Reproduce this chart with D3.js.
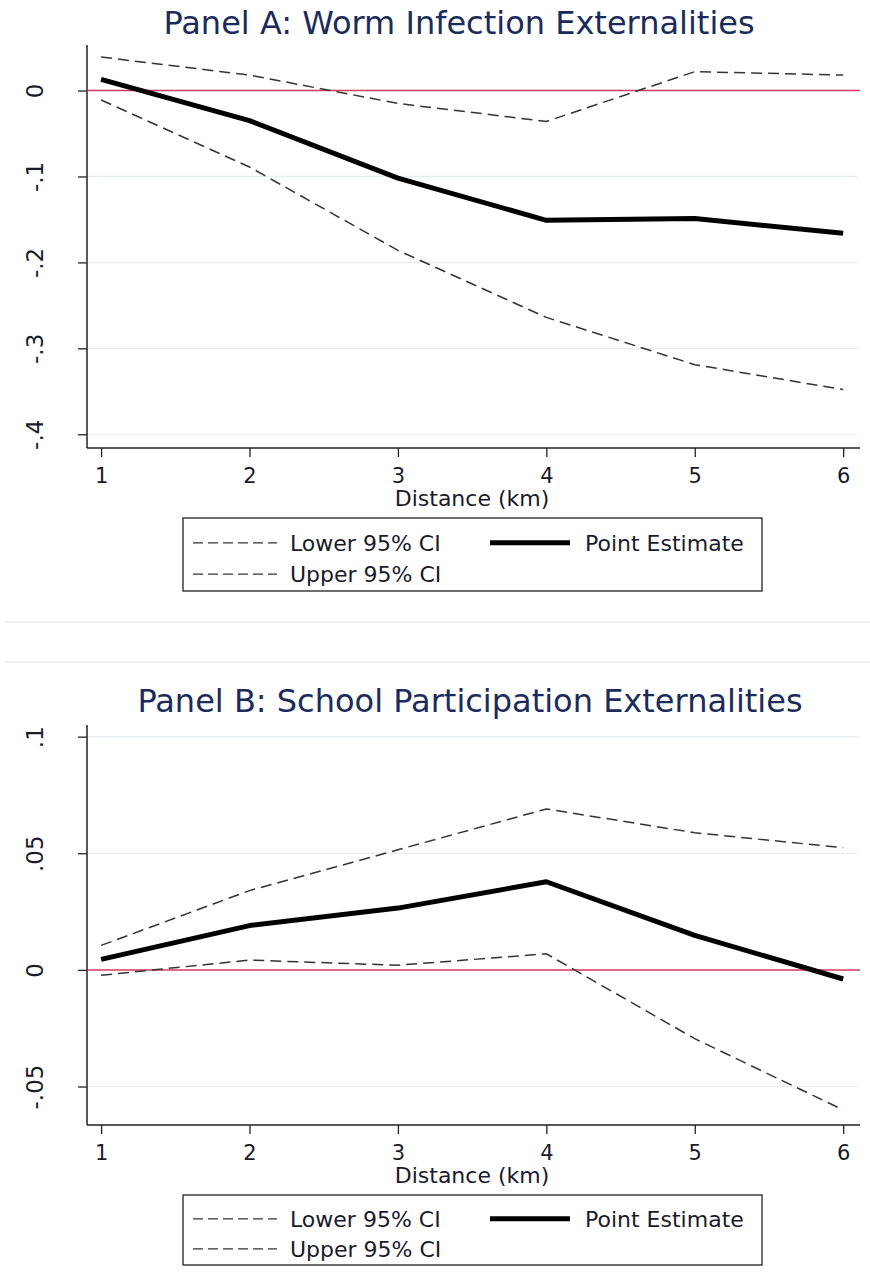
<!DOCTYPE html>
<html>
<head>
<meta charset="utf-8">
<script src="https://cdn.jsdelivr.net/npm/d3@7/dist/d3.min.js"></script>
<style>
  html, body { margin: 0; padding: 0; background: #fff; }
  svg { display: block; }
  text { font-family: "DejaVu Sans", Verdana, sans-serif; }
</style>
</head>
<body>
<svg id="chart" width="870" height="1272"></svg>
<script>
// Distance bands (km)
const distances = [1, 2, 3, 4, 5, 6];

// Panel A: worm infection externalities
const wormPoint = [0.013, -0.035, -0.102, -0.151, -0.149, -0.166];
const wormUpper = [0.039, 0.018, -0.015, -0.036, 0.022, 0.018];
const wormLower = [-0.011, -0.089, -0.186, -0.264, -0.319, -0.348];
const wormTicks = [0, -0.1, -0.2, -0.3, -0.4];
const wormTickLabels = ["0", "-.1", "-.2", "-.3", "-.4"];

// Panel B: school participation externalities
const schoolPoint = [0.0045, 0.019, 0.0265, 0.0378, 0.0148, -0.0039];
const schoolUpper = [0.0105, 0.034, 0.0515, 0.069, 0.0588, 0.0524];
const schoolLower = [-0.0023, 0.0042, 0.002, 0.0069, -0.0295, -0.060];
const schoolTicks = [0.1, 0.05, 0, -0.05];
const schoolTickLabels = [".1", ".05", "0", "-.05"];

const xTickLabels = ["1", "2", "3", "4", "5", "6"];
const legendLabels = ["Lower 95% CI", "Upper 95% CI", "Point Estimate"];

const svg = d3.select("#chart");
const textColor = "#1a1a2a";

function drawPanel(opt) {
  const g = svg.append("g");
  const x = d3.scaleLinear().domain([0.905, 6.1]).range([87, 858]);
  const y = d3.scaleLinear().domain(opt.yDomain).range([opt.top, opt.bottom]);

  // title
  g.append("text")
    .attr("x", opt.titleX).attr("y", opt.titleY)
    .attr("text-anchor", "middle")
    .attr("font-size", 32)
    .attr("fill", "#1c2b5a")
    .text(opt.title);

  // horizontal gridlines
  g.append("g").selectAll("line").data(opt.ticks.filter(t => t !== 0)).join("line")
    .attr("x1", 88).attr("x2", 858)
    .attr("y1", d => y(d)).attr("y2", d => y(d))
    .attr("stroke", "#e6eef2").attr("stroke-width", 1.2);

  // zero reference line
  g.append("line")
    .attr("x1", 88).attr("x2", 860)
    .attr("y1", y(0)).attr("y2", y(0))
    .attr("stroke", "#d23a5e").attr("stroke-width", 1.5);

  // y axis
  const yAxis = d3.axisLeft(y).tickValues(opt.ticks)
    .tickFormat((d, i) => opt.tickLabels[i]).tickSize(9).tickPadding(0);
  const ya = g.append("g").attr("transform", "translate(87,0)").call(yAxis);
  ya.select(".domain").attr("stroke", "#222").attr("stroke-width", 1.5)
    .attr("d", `M0,${opt.top}V${opt.bottom}`);
  ya.selectAll(".tick line").attr("stroke", "#222").attr("stroke-width", 1.3);
  ya.selectAll(".tick text")
    .attr("font-size", 23).attr("fill", textColor)
    .attr("text-anchor", "middle")
    .attr("x", 0).attr("dy", 0)
    .attr("transform", "translate(-51,0) rotate(-90)")
    .attr("dominant-baseline", "middle");

  // x axis
  const xAxis = d3.axisBottom(x).tickValues(distances)
    .tickFormat((d, i) => xTickLabels[i]).tickSize(9).tickPadding(0);
  const xa = g.append("g").attr("transform", `translate(0,${opt.bottom})`).call(xAxis);
  xa.select(".domain").attr("stroke", "#222").attr("stroke-width", 1.5)
    .attr("d", "M87,0H860");
  xa.selectAll(".tick line").attr("stroke", "#222").attr("stroke-width", 1.3);
  xa.selectAll(".tick text")
    .attr("font-size", 21).attr("fill", textColor)
    .attr("y", 35).attr("dy", 0);

  g.append("text")
    .attr("x", 472).attr("y", opt.bottom + 58)
    .attr("text-anchor", "middle")
    .attr("font-size", 22).attr("fill", textColor)
    .text("Distance (km)");

  const line = d3.line().x((d, i) => x(distances[i])).y(d => y(d));

  const dash = "11,6";
  g.append("path").datum(opt.lower).attr("d", line)
    .attr("fill", "none").attr("stroke", "#333").attr("stroke-width", 1.5)
    .attr("stroke-dasharray", dash);
  g.append("path").datum(opt.upper).attr("d", line)
    .attr("fill", "none").attr("stroke", "#333").attr("stroke-width", 1.5)
    .attr("stroke-dasharray", dash);
  g.append("path").datum(opt.point).attr("d", line)
    .attr("fill", "none").attr("stroke", "#000").attr("stroke-width", 5)
    .attr("stroke-linejoin", "round");

  // legend
  const lg = g.append("g").attr("transform", `translate(183,${opt.legendTop})`);
  lg.append("rect").attr("x", 0).attr("y", 0).attr("width", 579).attr("height", opt.legendH)
    .attr("fill", "#fff").attr("stroke", "#222").attr("stroke-width", 1.3);
  const rows = [
    { x0: 10, y: opt.legendH * 0.34, label: legendLabels[0], thick: false },
    { x0: 10, y: opt.legendH * 0.77, label: legendLabels[1], thick: false },
    { x0: 307, y: opt.legendH * 0.34, label: legendLabels[2], thick: true }
  ];
  rows.forEach(r => {
    lg.append("line")
      .attr("x1", r.x0).attr("x2", r.x0 + (r.thick ? 80 : 84))
      .attr("y1", r.y).attr("y2", r.y)
      .attr("stroke", r.thick ? "#000" : "#333")
      .attr("stroke-width", r.thick ? 5 : 1.3)
      .attr("stroke-dasharray", r.thick ? null : "10,5");
    lg.append("text")
      .attr("x", r.x0 + (r.thick ? 95 : 97)).attr("y", r.y)
      .attr("dy", "0.36em")
      .attr("font-size", 22).attr("fill", textColor)
      .text(r.label);
  });
}

drawPanel({
  title: "Panel A: Worm Infection Externalities",
  titleX: 459, titleY: 34,
  yDomain: [0.053, -0.416], top: 45, bottom: 448,
  ticks: wormTicks, tickLabels: wormTickLabels,
  point: wormPoint, upper: wormUpper, lower: wormLower,
  legendTop: 518, legendH: 73
});

// panel separators
svg.append("g").selectAll("line").data([622, 662]).join("line")
  .attr("x1", 5).attr("x2", 870)
  .attr("y1", d => d).attr("y2", d => d)
  .attr("stroke", "#e6ecef").attr("stroke-width", 1.5);

drawPanel({
  title: "Panel B: School Participation Externalities",
  titleX: 470, titleY: 712,
  yDomain: [0.105, -0.0665], top: 725, bottom: 1125,
  ticks: schoolTicks, tickLabels: schoolTickLabels,
  point: schoolPoint, upper: schoolUpper, lower: schoolLower,
  legendTop: 1195, legendH: 70
});
</script>
</body>
</html>
